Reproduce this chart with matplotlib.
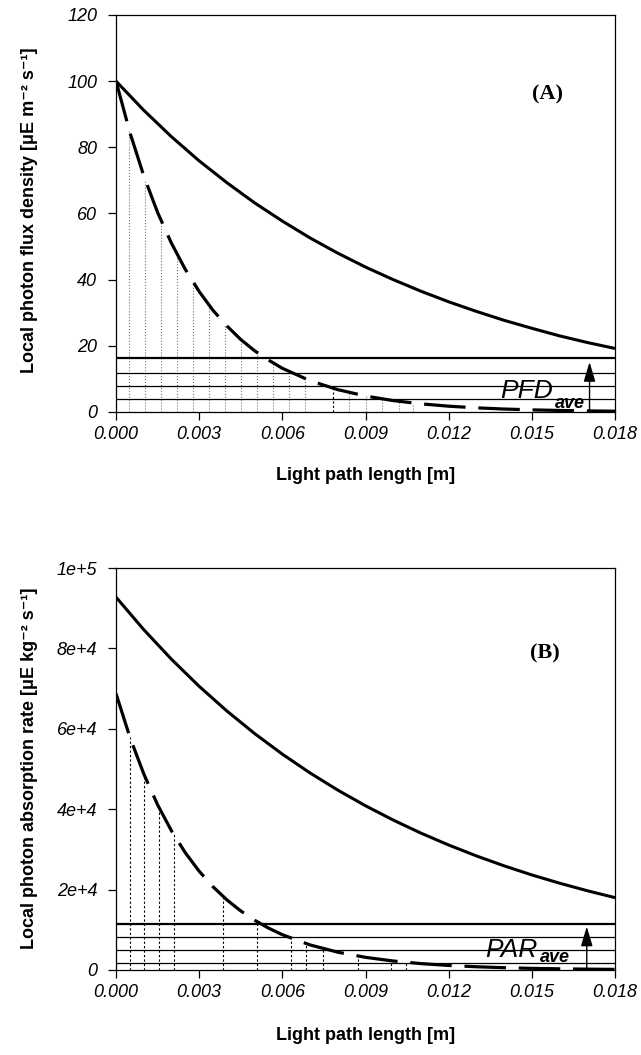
import numpy as np
import matplotlib
matplotlib.use("Agg")
import matplotlib.pyplot as plt

plt.rcParams['font.family'] = ['Liberation Sans', 'DejaVu Sans']

# light path positions [m] at which the curves were read
x_coarse = [0.000, 0.001, 0.002, 0.003, 0.004, 0.005, 0.006, 0.007, 0.008, 0.009,
            0.010, 0.011, 0.012, 0.013, 0.014, 0.015, 0.016, 0.017, 0.018]
x_fine = [0.0000, 0.0005, 0.0010, 0.0015, 0.0020, 0.0025, 0.0030, 0.0035, 0.0040,
          0.0045, 0.0050, 0.0055, 0.0060, 0.007, 0.008, 0.009, 0.010, 0.011, 0.012,
          0.013, 0.014, 0.015, 0.016, 0.017, 0.018]

# panel A: local photon flux density
pfd_solid = [100, 91.2, 83.2, 75.9, 69.3, 63.2, 57.7, 52.6, 48.0, 43.8,
             40.0, 36.5, 33.3, 30.4, 27.7, 25.3, 23.0, 21.0, 19.2]
pfd_dashed = [100, 84.5, 71.4, 60.3, 51.0, 43.1, 36.4, 30.7, 26.0, 21.9, 18.5, 15.7,
              13.2, 9.45, 6.75, 4.82, 3.44, 2.46, 1.75, 1.25, 0.89, 0.64, 0.46, 0.33, 0.23]
pfd_levels = [16.3, 11.8, 7.9, 3.9]
pfd_drops = [0.00048, 0.00106, 0.00163, 0.00221, 0.00278, 0.00336, 0.00393, 0.00451,
             0.00508, 0.00566, 0.00623, 0.00681, 0.0084, 0.0090, 0.0096, 0.0102, 0.0107]
pfd_drop_dark = [0.00783]

# panel B: local photon absorption rate
par_solid = [92750, 84670, 77300, 70560, 64420, 58810, 53690, 49010, 44740, 40850,
             37290, 34040, 31080, 28370, 25900, 23640, 21590, 19710, 17990]
par_dashed = [68750, 57910, 48790, 41090, 34620, 29160, 24560, 20690, 17430, 14680,
              12370, 10420, 8775, 6230, 4420, 3140, 2230, 1580, 1120, 800, 565, 400,
              285, 205, 145]
par_levels = [11500, 8300, 5000, 1700]
par_drops = [0.00050, 0.00102, 0.00155, 0.00208, 0.00386, 0.00509, 0.00630, 0.00686,
             0.00748, 0.00872, 0.00992, 0.01045]

xticks = [0.000, 0.003, 0.006, 0.009, 0.012, 0.015, 0.018]
xtick_labels = ['0.000', '0.003', '0.006', '0.009', '0.012', '0.015', '0.018']
pfd_ticks = [0, 20, 40, 60, 80, 100, 120]
par_ticks = [0, 20000, 40000, 60000, 80000, 100000]
par_tick_labels = ['0', '2e+4', '4e+4', '6e+4', '8e+4', '1e+5']

tick_font = dict(family='Liberation Sans', style='italic', size=13)
label_font = dict(family=['Liberation Sans', 'DejaVu Sans'], weight='bold', size=13)


def setup_axes(ax, ymax, yticks, ylabels):
    ax.set_xlim(0, 0.018)
    ax.set_ylim(0, ymax)
    ax.set_xticks(xticks)
    ax.set_xticklabels(xtick_labels, **tick_font)
    ax.set_yticks(yticks)
    ax.set_yticklabels(ylabels, **tick_font)
    ax.tick_params(direction='out', length=6, width=0.9)
    ax.tick_params(axis='y', pad=7.5)
    ax.tick_params(axis='x', pad=4)
    for sp in ax.spines.values():
        sp.set_linewidth(0.9)


def draw_panel(ax, solid, dashed, levels, drops, drop_color, drop_ls):
    tops = np.interp(drops, x_fine, dashed)
    ax.vlines(drops, 0, tops, colors=drop_color, linestyles=drop_ls, linewidth=0.8, zorder=1)
    for i, lev in enumerate(levels):
        ax.axhline(lev, color='k', lw=1.6 if i == 0 else 0.9, zorder=2)
    ax.plot(x_coarse, solid, color='k', lw=2.2, zorder=3, solid_capstyle='butt')
    ax.plot(x_fine, dashed, color='k', lw=2.3, dashes=(13, 4), zorder=3)


fig = plt.figure(figsize=(6.41, 10.55), dpi=100)

# ---- (A)
axA = fig.add_axes([0.181, 0.6095, 0.7785, 0.3763])
draw_panel(axA, pfd_solid, pfd_dashed, pfd_levels, pfd_drops, '0.45', ':')
tA = np.interp(pfd_drop_dark, x_fine, pfd_dashed)
axA.vlines(pfd_drop_dark, 0, tA, colors='k', linestyles=(0, (2, 2)), linewidth=0.8, zorder=1)
setup_axes(axA, 120, pfd_ticks, [str(t) for t in pfd_ticks])
axA.annotate('', xy=(0.01708, 15.1), xytext=(0.01708, 0),
             arrowprops=dict(arrowstyle='-|>,head_length=0.6,head_width=0.18',
                             color='k', lw=1.0, mutation_scale=20, shrinkA=0, shrinkB=0))
axA.text(0.01385, 4.2, 'PFD', style='italic', fontsize=19, ha='left', va='baseline')
axA.text(0.01584, 1.3, 'ave', style='italic', weight='bold', fontsize=13,
         ha='left', va='baseline')
axA.text(0.01555, 96, '(A)', family='Liberation Serif', weight='bold', fontsize=16,
         ha='center', va='center')

# ---- (B)
axB = fig.add_axes([0.181, 0.0806, 0.7785, 0.381])
draw_panel(axB, par_solid, par_dashed, par_levels, par_drops, 'k', (0, (2, 2)))
setup_axes(axB, 100000, par_ticks, par_tick_labels)
axB.annotate('', xy=(0.01698, 10800), xytext=(0.01698, 0),
             arrowprops=dict(arrowstyle='-|>,head_length=0.6,head_width=0.18',
                             color='k', lw=1.0, mutation_scale=20, shrinkA=0, shrinkB=0))
axB.text(0.01331, 3300, 'PAR', style='italic', fontsize=19, ha='left', va='baseline')
axB.text(0.01529, 1900, 'ave', style='italic', weight='bold', fontsize=13,
         ha='left', va='baseline')
axB.text(0.01547, 78750, '(B)', family='Liberation Serif', weight='bold', fontsize=16,
         ha='center', va='center')

fig.text(30 / 641, 1 - 210 / 1055, 'Local photon flux density [\u03bcE m\u207b\u00b2 s\u207b\u00b9]',
         rotation=90, ha='center', va='center', **label_font)
fig.text(366 / 641, 1 - 476 / 1055, 'Light path length [m]', ha='center', va='center', **label_font)
fig.text(30 / 641, 1 - 768 / 1055, 'Local photon absorption rate [\u03bcE kg\u207b\u00b2 s\u207b\u00b9]',
         rotation=90, ha='center', va='center', **label_font)
fig.text(366 / 641, 1 - 1035 / 1055, 'Light path length [m]', ha='center', va='center', **label_font)

fig.savefig('out.png', dpi=100)
